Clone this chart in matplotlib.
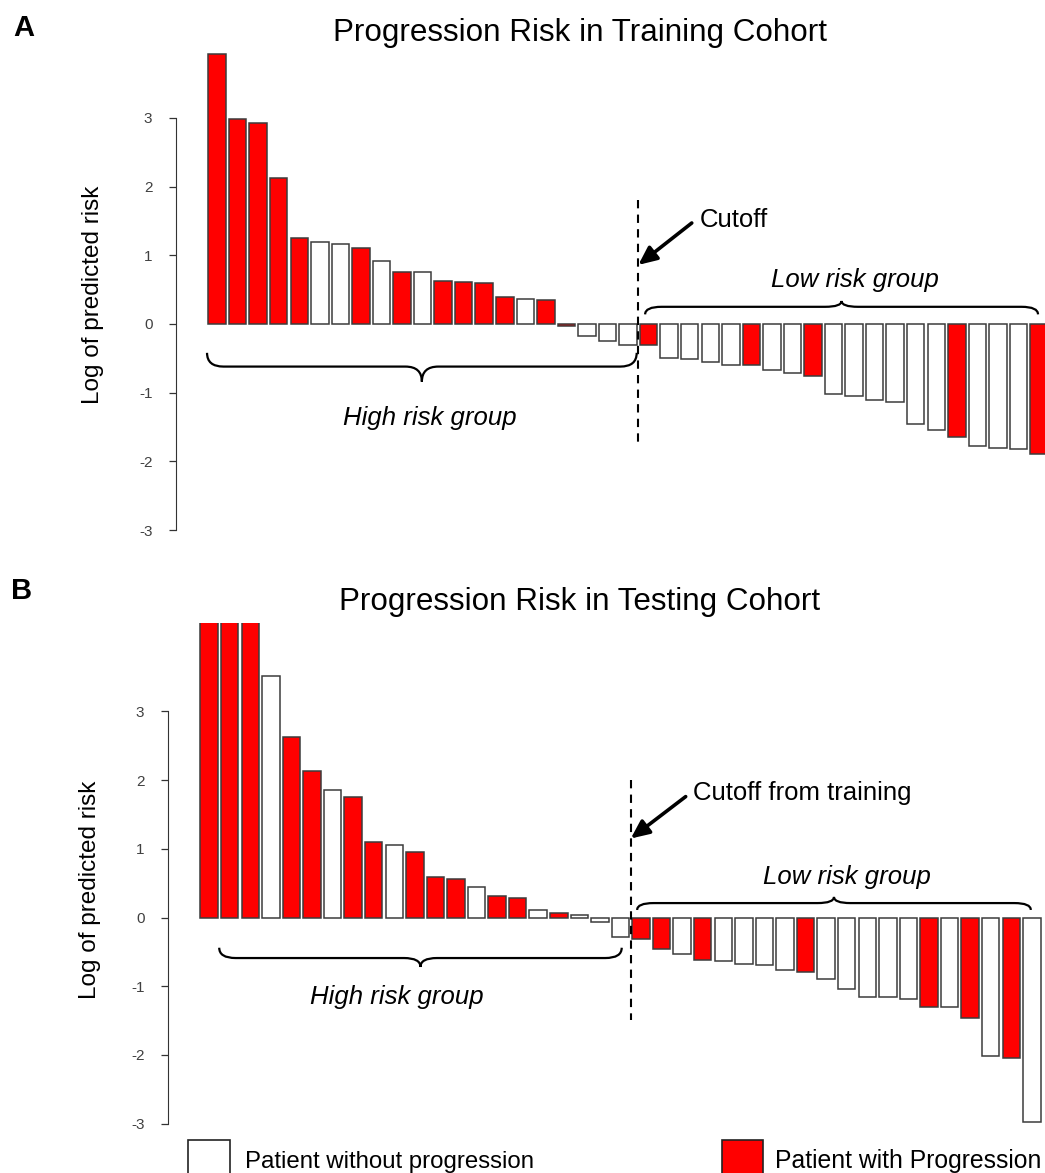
import numpy as np
import matplotlib
matplotlib.use("Agg")
import matplotlib.pyplot as plt
from matplotlib.path import Path
from matplotlib.patches import PathPatch, Rectangle

plt.rcParams['font.family'] = ['Liberation Sans', 'DejaVu Sans']

# log of predicted risk, sorted, one value per patient
train_risk = [3.93, 2.99, 2.93, 2.12, 1.25, 1.19, 1.17, 1.10, 0.92, 0.76,
              0.76, 0.63, 0.61, 0.59, 0.40, 0.36, 0.35, -0.03, -0.17, -0.25,
              -0.31, -0.31, -0.49, -0.51, -0.56, -0.59, -0.59, -0.67, -0.72, -0.75,
              -1.02, -1.05, -1.11, -1.13, -1.46, -1.54, -1.65, -1.77, -1.80, -1.82,
              -1.89]
train_prog = [1, 1, 1, 1, 1, 0, 0, 1, 0, 1,
              0, 1, 1, 1, 1, 0, 1, 1, 0, 0,
              0, 1, 0, 0, 0, 0, 1, 0, 0, 1,
              0, 0, 0, 0, 0, 0, 1, 0, 0, 0,
              1]

test_risk = [4.9, 4.7, 4.5, 3.52, 2.63, 2.13, 1.86, 1.76, 1.10, 1.05,
             0.95, 0.59, 0.56, 0.45, 0.31, 0.29, 0.11, 0.06, 0.04, -0.06,
             -0.28, -0.31, -0.46, -0.53, -0.62, -0.64, -0.67, -0.69, -0.77, -0.79,
             -0.90, -1.04, -1.15, -1.15, -1.18, -1.30, -1.31, -1.46, -2.02, -2.04,
             -2.97]
test_prog = [1, 1, 1, 0, 1, 1, 0, 1, 1, 0,
             1, 1, 1, 0, 1, 1, 0, 1, 0, 0,
             0, 1, 1, 0, 1, 0, 0, 0, 0, 1,
             0, 0, 0, 0, 0, 1, 0, 1, 0, 1,
             0]

yticks = [-3, -2, -1, 0, 1, 2, 3]
ytick_labels = ['-3', '-2', '-1', '0', '1', '2', '3']
cutoff_pos = 20.5

RED = '#ff0000'
EDGE = '#3c3c3c'

W, H = 1045, 1173
fig = plt.figure(figsize=(W / 100, H / 100), dpi=100)


def px_rect(left, top, right, bottom):
    return [left / W, 1 - bottom / H, (right - left) / W, (bottom - top) / H]


def brace(ax, x0, x1, y_end, y_mid, y_tip, q):
    xm = (x0 + x1) / 2
    verts = [(x0, y_end), (x0, y_mid), (x0 + q, y_mid), (xm - q, y_mid),
             (xm, y_mid), (xm, y_tip), (xm, y_mid), (xm + q, y_mid),
             (x1 - q, y_mid), (x1, y_mid), (x1, y_end)]
    codes = [Path.MOVETO, Path.CURVE3, Path.CURVE3, Path.LINETO,
             Path.CURVE3, Path.CURVE3, Path.CURVE3, Path.CURVE3,
             Path.LINETO, Path.CURVE3, Path.CURVE3]
    ax.add_patch(PathPatch(Path(verts, codes), fill=False, lw=1.6,
                           edgecolor='black', clip_on=False))


def risk_panel(rect, ylim, x_right, risk, prog):
    ax = fig.add_axes(rect)
    x = np.arange(len(risk))
    colors = [RED if p else 'white' for p in prog]
    ax.bar(x, risk, width=0.85, color=colors, edgecolor=EDGE, linewidth=1.1)
    ax.set_xlim(-2, x_right)
    ax.set_ylim(*ylim)
    for s in ['top', 'right', 'bottom']:
        ax.spines[s].set_visible(False)
    ax.spines['left'].set_bounds(-3, 3)
    ax.spines['left'].set_color('#333333')
    ax.set_xticks([])
    ax.set_yticks(yticks)
    ax.set_yticklabels(ytick_labels)
    ax.tick_params(axis='y', length=5, width=0.9, color='#333333',
                   labelsize=11, labelcolor='#404040', pad=12)
    ax.patch.set_alpha(0)
    return ax


axA = risk_panel(px_rect(176, 50, W, 545), (-3.217, 3.988), 40.29, train_risk, train_prog)
axB = risk_panel(px_rect(168, 623, W, 1135), (-3.166, 4.287), 40.64, test_risk, test_prog)

ann = dict(fontsize=18.5)
arrow = dict(arrowstyle='-|>,head_length=0.55,head_width=0.25', lw=2.6,
             color='black', mutation_scale=20, shrinkA=0, shrinkB=0)

# panel A annotations
axA.plot([cutoff_pos, cutoff_pos], [1.80, -1.76], ls=(0, (4, 3)), color='black', lw=1.5)
axA.annotate('', xy=(20.5, 0.86), xytext=(23.1, 1.47), arrowprops=arrow)
axA.text(23.5, 1.51, 'Cutoff', ha='left', va='center', **ann)
brace(axA, -0.49, 20.42, -0.42, -0.62, -0.84, 0.8)
axA.text(10.37, -1.37, 'High risk group', ha='center', va='center', style='italic', **ann)
brace(axA, 20.83, 39.95, 0.14, 0.25, 0.335, 0.8)
axA.text(31.05, 0.64, 'Low risk group', ha='center', va='center', style='italic', **ann)

# panel B annotations
axB.plot([cutoff_pos, cutoff_pos], [2.0, -1.49], ls=(0, (4, 3)), color='black', lw=1.5)
axB.annotate('', xy=(20.5, 1.15), xytext=(23.17, 1.76), arrowprops=arrow)
axB.text(23.53, 1.81, 'Cutoff from training', ha='left', va='center', **ann)
brace(axB, 0.49, 20.06, -0.44, -0.59, -0.72, 0.8)
axB.text(9.12, -1.15, 'High risk group', ha='center', va='center', style='italic', **ann)
brace(axB, 20.81, 39.95, 0.11, 0.21, 0.30, 0.8)
axB.text(30.99, 0.59, 'Low risk group', ha='center', va='center', style='italic', **ann)

# titles, panel letters, axis labels
fig.text(580 / W, 1 - 33 / H, 'Progression Risk in Training Cohort', ha='center', va='center', fontsize=22.6)
fig.text(580 / W, 1 - 602 / H, 'Progression Risk in Testing Cohort', ha='center', va='center', fontsize=22.6)
fig.text(24 / W, 1 - 28 / H, 'A', ha='center', va='center', fontsize=21, fontweight='bold')
fig.text(22 / W, 1 - 591 / H, 'B', ha='center', va='center', fontsize=21, fontweight='bold')
fig.text(93 / W, 1 - 295 / H, 'Log of predicted risk', rotation=90, ha='center', va='center', fontsize=17.5)
fig.text(90 / W, 1 - 890 / H, 'Log of predicted risk', rotation=90, ha='center', va='center', fontsize=17.5)

# legend along the bottom
fig.add_artist(Rectangle((188 / W, 1 - 1185 / H), 42 / W, 45 / H, transform=fig.transFigure,
                         facecolor='white', edgecolor='#222222', lw=1.2, clip_on=False))
fig.add_artist(Rectangle((722 / W, 1 - 1185 / H), 41 / W, 45 / H, transform=fig.transFigure,
                         facecolor=RED, edgecolor='#222222', lw=1.2, clip_on=False))
fig.text(245 / W, 1 - 1168 / H, 'Patient without progression', ha='left', va='baseline', fontsize=17.3)
fig.text(775 / W, 1 - 1168 / H, 'Patient with Progression', ha='left', va='baseline', fontsize=17.8)

fig.savefig('out.png', dpi=100, facecolor='white')
